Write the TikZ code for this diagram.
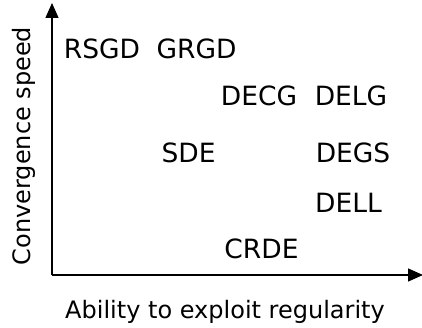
\documentclass[tikz,border=0pt]{standalone}
\usepackage{fontspec}
\setmainfont{DejaVu Sans}
\usetikzlibrary{arrows.meta}
\begin{document}
\begin{tikzpicture}[x=1pt,y=1pt,
  lbl/.style={anchor=base,inner sep=0pt,font=\fontsize{26.5}{30}\selectfont},
  axlbl/.style={anchor=base,inner sep=0pt,font=\fontsize{24}{28}\selectfont},
  axis/.style={line width=1.4pt,-{Triangle[length=15pt,width=13pt]}}]
\useasboundingbox (0,0) rectangle (422,327);
\coordinate (o) at (52,52);
\coordinate (ytop) at (52,324);
\coordinate (xend) at (423,52);
\draw[axis] (o) -- (ytop);
\draw[axis] (o) -- (xend);
\node[lbl] (rsgd) at (102,268) {RSGD};
\node[lbl] (grgd) at (196.5,268) {GRGD};
\node[lbl] (decg) at (259,222) {DECG};
\node[lbl] (delg) at (351,222) {DELG};
\node[lbl] (sde) at (188.5,165) {SDE};
\node[lbl] (degs) at (353,165) {DEGS};
\node[lbl] (dell) at (348.5,115) {DELL};
\node[lbl] (crde) at (261.5,69) {CRDE};
\node[axlbl] (xl) at (225,9) {Ability to exploit regularity};
\node[axlbl,rotate=90] (yl) at (30,181) {Convergence speed};
\end{tikzpicture}
\end{document}
